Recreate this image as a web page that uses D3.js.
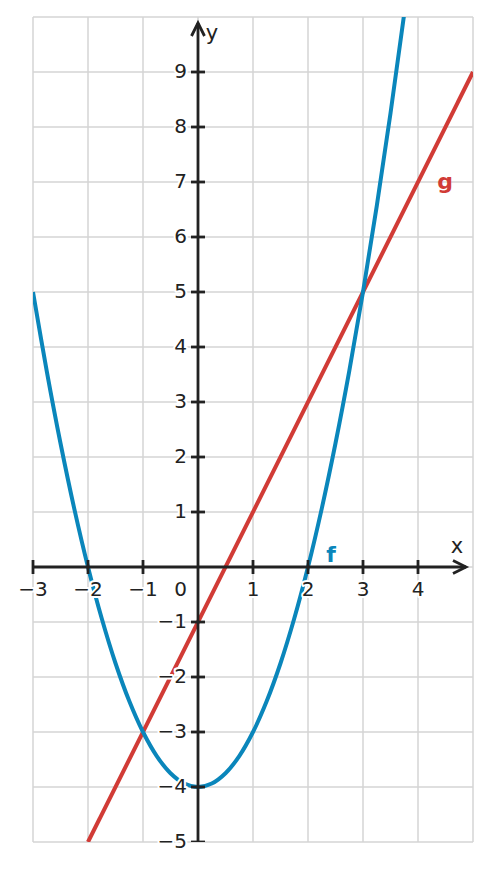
<!DOCTYPE html>
<html><head><meta charset="utf-8">
<script src="https://cdn.jsdelivr.net/npm/d3@7"></script>
<style>body{margin:0;background:#fff}svg{display:block}</style>
</head><body>
<svg id="c" width="490" height="870"></svg>
<script>
const xTicks = [-3,-2,-1,1,2,3,4];
const yTicks = [-5,-4,-3,-2,-1,1,2,3,4,5,6,7,8,9];
const gridX = [-3,-2,-1,0,1,2,3,4,5];
const gridY = [-5,-4,-3,-2,-1,0,1,2,3,4,5,6,7,8,9,10];
const fX = [-3,-2.75,-2.5,-2.25,-2,-1.75,-1.5,-1.25,-1,-0.75,-0.5,-0.25,0,0.25,0.5,0.75,1,1.25,1.5,1.75,2,2.25,2.5,2.75,3,3.25,3.5,3.75,4];
const fY = [5,3.5625,2.25,1.0625,0,-0.9375,-1.75,-2.4375,-3,-3.4375,-3.75,-3.9375,-4,-3.9375,-3.75,-3.4375,-3,-2.4375,-1.75,-0.9375,0,1.0625,2.25,3.5625,5,6.5625,8.25,10.0625,12];
const gX = [-2,5];
const gY = [-5,9];

const svg = d3.select("#c");
const x = d3.scaleLinear().domain([-3,5]).range([33,473]);
const y = d3.scaleLinear().domain([-5,10]).range([842,17]);
const fmt = v => String(v).replace("-", "\u2212");

const defs = svg.append("defs");
defs.append("clipPath").attr("id","clip")
  .append("rect").attr("x",x(-3)).attr("y",y(10)).attr("width",x(5)-x(-3)).attr("height",y(-5)-y(10));
defs.append("clipPath").attr("id","clipAx")
  .append("rect").attr("x",0).attr("y",0).attr("width",490).attr("height",y(-5));

const grid = svg.append("g").attr("stroke","#d4d4d4").attr("stroke-width",1.5);
grid.selectAll(".gx").data(gridX).join("line").attr("x1",d=>x(d)).attr("x2",d=>x(d)).attr("y1",y(10)).attr("y2",y(-5));
grid.selectAll(".gy").data(gridY).join("line").attr("y1",d=>y(d)).attr("y2",d=>y(d)).attr("x1",x(-3)).attr("x2",x(5));

const plot = svg.append("g").attr("clip-path","url(#clip)");
const line = d3.line().x(d=>x(d[0])).y(d=>y(d[1]));
plot.append("path").datum(gX.map((v,i)=>[v,gY[i]])).attr("d",line)
  .attr("fill","none").attr("stroke","#d13b36").attr("stroke-width",4);
plot.append("path").datum(fX.map((v,i)=>[v,fY[i]])).attr("d",line.curve(d3.curveCatmullRom))
  .attr("fill","none").attr("stroke","#0a86bb").attr("stroke-width",4);

// axes
const ax = svg.append("g").attr("stroke","#222").attr("stroke-width",2.8).attr("fill","none").attr("clip-path","url(#clipAx)");
const xEnd = 466, yEnd = 23;
ax.append("line").attr("x1",x(-3)).attr("x2",xEnd).attr("y1",y(0)).attr("y2",y(0));
ax.append("line").attr("x1",x(0)).attr("x2",x(0)).attr("y1",y(-5)).attr("y2",yEnd);
ax.append("path").attr("d",`M${xEnd-13},${y(0)-6.5}L${xEnd},${y(0)}L${xEnd-13},${y(0)+6.5}`);
ax.append("path").attr("d",`M${x(0)-6.5},${yEnd+13}L${x(0)},${yEnd}L${x(0)+6.5},${yEnd+13}`);
ax.selectAll(".tx").data(xTicks).join("line").attr("x1",d=>x(d)).attr("x2",d=>x(d)).attr("y1",y(0)-7).attr("y2",y(0)+7);
ax.selectAll(".ty").data(yTicks).join("line").attr("y1",d=>y(d)).attr("y2",d=>y(d)).attr("x1",x(0)-7).attr("x2",x(0)+7);

const lab = svg.append("g").attr("font-family","DejaVu Sans").attr("font-size",20).attr("fill","#222")
  .attr("stroke","#fff").attr("stroke-width",4).attr("paint-order","stroke").attr("stroke-linejoin","round");
lab.selectAll(".lx").data(xTicks).join("text").attr("x",d=>x(d)).attr("y",y(0)+29).attr("text-anchor","middle").text(fmt);
lab.selectAll(".ly").data(yTicks).join("text").attr("x",x(0)-11).attr("y",d=>y(d)+6).attr("text-anchor","end").text(fmt);
lab.append("text").attr("x",x(0)-11).attr("y",y(0)+29).attr("text-anchor","end").text("0");

const t = svg.append("g").attr("font-family","DejaVu Sans");
t.append("text").attr("x",457).attr("y",y(0)-14).attr("text-anchor","middle").attr("font-size",21).attr("fill","#222").text("x");
t.append("text").attr("x",212).attr("y",40).attr("text-anchor","middle").attr("font-size",21).attr("fill","#222").text("y");
t.append("text").attr("x",331).attr("y",y(0)-5).attr("text-anchor","middle").attr("font-size",22).attr("font-weight","bold").attr("fill","#0a86bb").text("f");
t.append("text").attr("x",445).attr("y",y(7)+7).attr("text-anchor","middle").attr("font-size",22).attr("font-weight","bold").attr("fill","#d13b36").text("g");
</script>
</body></html>
